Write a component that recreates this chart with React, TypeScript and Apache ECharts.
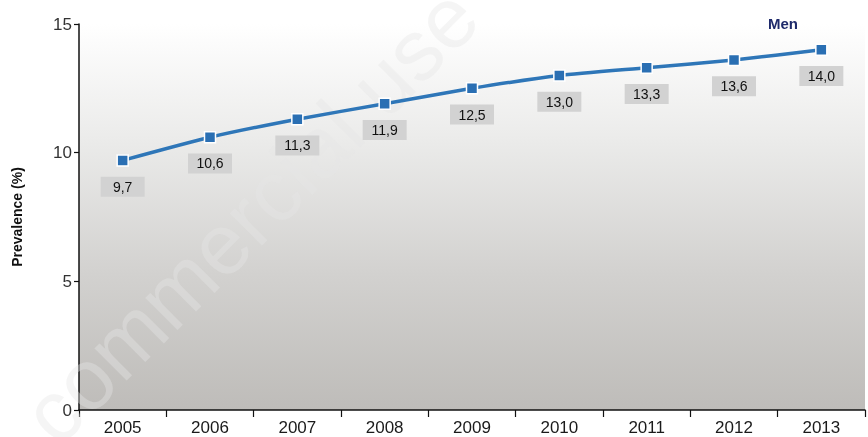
import React, { useEffect, useRef } from "react";
import * as echarts from "echarts";

const years = ["2005", "2006", "2007", "2008", "2009", "2010", "2011", "2012", "2013"];
const menValues = [9.7, 10.6, 11.3, 11.9, 12.5, 13.0, 13.3, 13.6, 14.0];
const seriesName = "Men";
const yAxisTitle = "Prevalence (%)";
const watermarkText = "commercial use";

export default function App() {
  const ref = useRef<HTMLDivElement>(null);
  useEffect(() => {
    const chart = echarts.init(ref.current!, null, { renderer: "svg" });
    chart.setOption({
      animation: false,
      textStyle: { fontFamily: "Liberation Sans, Arial, Helvetica, sans-serif" },
      legend: {
        data: [seriesName],
        icon: "none",
        itemWidth: 0,
        itemHeight: 14,
        left: 758,
        top: 11,
        selectedMode: false,
        textStyle: { fontWeight: "bold", fontSize: 15, color: "#1e2a6b" },
      },
      grid: {
        left: 79,
        top: 24,
        bottom: 27,
        width: 786,
        show: true,
        borderWidth: 0,
        backgroundColor: new echarts.graphic.LinearGradient(0, 0, 0, 1, [
          { offset: 0, color: "#ffffff" },
          { offset: 0.3, color: "#ebebea" },
          { offset: 0.65, color: "#d2d1cf" },
          { offset: 1, color: "#bebcb9" },
        ]),
      },
      xAxis: {
        type: "category",
        data: years,
        boundaryGap: true,
        axisLine: { lineStyle: { color: "#111", width: 1.5 } },
        axisTick: { show: true, length: 7, lineStyle: { color: "#111", width: 1.2 } },
        axisLabel: { fontSize: 17, color: "#1a1a1a", margin: 9 },
      },
      yAxis: {
        type: "value",
        min: 0,
        max: 15,
        interval: 5,
        name: yAxisTitle,
        nameLocation: "middle",
        nameGap: 55,
        nameTextStyle: { fontSize: 14, fontWeight: "bold", color: "#111" },
        axisLine: { show: true, lineStyle: { color: "#111", width: 1.5 } },
        axisTick: { show: true, length: 5, lineStyle: { color: "#111", width: 1.2 } },
        axisLabel: { fontSize: 17, color: "#333", margin: 7 },
        splitLine: { show: false },
      },
      series: [
        {
          name: seriesName,
          type: "line",
          data: menValues,
          smooth: 0.2,
          z: 3,
          symbol: "rect",
          symbolSize: 11,
          itemStyle: { color: "#2a6fb3", borderColor: "#ffffff", borderWidth: 1.5 },
          lineStyle: { color: "#2e76b8", width: 3.5 },
          label: {
            show: true,
            position: "bottom",
            distance: 10,
            formatter: (p: any) => p.value.toFixed(1).replace(".", ","),
            fontSize: 14,
            color: "#111",
            backgroundColor: "#d2d2d2",
            width: 30,
            align: "center",
            padding: [3, 7, 3, 7],
          },
        },
      ],
      graphic: [
        {
          type: "text",
          x: 250,
          y: 215,
          rotation: Math.PI / 4,
          z: 1,
          silent: true,
          style: {
            text: watermarkText,
            fontSize: 86,
            fontFamily: "Liberation Sans, Arial, sans-serif",
            fill: "rgba(230,230,230,0.4)",
            textAlign: "center",
            textVerticalAlign: "middle",
          },
        },
      ],
    });
    return () => chart.dispose();
  }, []);
  return <div ref={ref} style={{ position: "fixed", left: 0, top: 0, width: 868, height: 437 }} />;
}
